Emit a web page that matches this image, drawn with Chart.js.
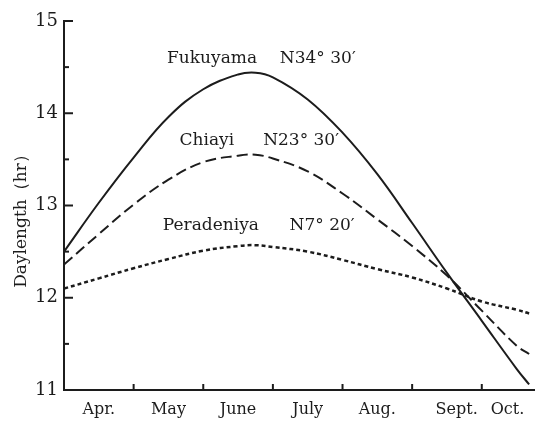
<!DOCTYPE html>
<html>
<head>
<meta charset="utf-8">
<script src="https://cdn.jsdelivr.net/npm/chart.js@4/dist/chart.umd.min.js"></script>
<style>
  html, body { margin: 0; padding: 0; background: #fff; }
  canvas { display: block; }
</style>
</head>
<body>
<canvas id="myChart" width="535" height="421"></canvas>
<script>
// months since 1 April
const months     = [0, 0.5, 1, 1.5, 2, 2.5, 2.75, 3, 3.5, 4, 4.5, 5, 5.5, 6, 6.5, 6.68];
const fukuyama   = [12.50, 13.03, 13.52, 13.96, 14.26, 14.42, 14.44, 14.39, 14.15, 13.79, 13.34, 12.81, 12.27, 11.75, 11.23, 11.06];
const chiayi     = [12.36, 12.69, 13.01, 13.28, 13.47, 13.54, 13.55, 13.51, 13.37, 13.13, 12.85, 12.56, 12.24, 11.86, 11.48, 11.39];
const peradeniya = [12.10, 12.21, 12.32, 12.42, 12.51, 12.56, 12.57, 12.55, 12.50, 12.41, 12.31, 12.22, 12.10, 11.96, 11.87, 11.83];

const monthLabels   = ['Apr.', 'May', 'June', 'July', 'Aug.', 'Sept.', 'Oct.'];
const monthLabelPos = [0.5, 1.5, 2.5, 3.5, 4.5, 5.64, 6.37];
const monthTicks    = [1, 2, 3, 4, 5, 6];
const hourTicks     = [11, 12, 13, 14, 15];
const minorHourTicks = [11.5, 12.5, 13.5, 14.5];

const stationNames = ['Fukuyama', 'Chiayi', 'Peradeniya'];
const stationLats  = ['N34° 30′', 'N23° 30′', 'N7° 20′'];
// label anchors in data units: [name x, lat x, y]
const stationLabelAt = [[1.48, 3.10, 14.59], [1.66, 2.86, 13.70], [1.42, 3.24, 12.78]];

const INK = '#1c1c1c';
const FONT = '"DejaVu Serif", serif';

const toPoints = vals => vals.map((v, i) => ({ x: months[i], y: v }));

const decorations = {
  id: 'decorations',
  afterDraw(chart) {
    const { ctx, chartArea, scales: { x, y } } = chart;
    ctx.save();
    ctx.strokeStyle = INK;
    ctx.fillStyle = INK;
    ctx.lineWidth = 2;
    // y tick marks, pointing inwards
    hourTicks.slice(1).forEach(v => {
      const py = y.getPixelForValue(v);
      ctx.beginPath(); ctx.moveTo(chartArea.left, py); ctx.lineTo(chartArea.left + 9, py); ctx.stroke();
    });
    minorHourTicks.forEach(v => {
      const py = y.getPixelForValue(v);
      ctx.beginPath(); ctx.moveTo(chartArea.left, py); ctx.lineTo(chartArea.left + 5, py); ctx.stroke();
    });
    // x tick marks, pointing up
    monthTicks.forEach(v => {
      const px = x.getPixelForValue(v);
      ctx.beginPath(); ctx.moveTo(px, chartArea.bottom); ctx.lineTo(px, chartArea.bottom - 6); ctx.stroke();
    });
    // station labels
    ctx.font = '17px ' + FONT;
    ctx.textBaseline = 'middle';
    ctx.textAlign = 'left';
    stationNames.forEach((name, i) => {
      const [nx, lx, ly] = stationLabelAt[i];
      const py = y.getPixelForValue(ly);
      ctx.fillText(name, x.getPixelForValue(nx), py);
      ctx.fillText(stationLats[i], x.getPixelForValue(lx), py);
    });
    // y title
    ctx.translate(22, 217);
    ctx.rotate(-Math.PI / 2);
    ctx.textAlign = 'center';
    ctx.font = '17px ' + FONT;
    ctx.fillText('Daylength（hr）', 0, 0);
    ctx.restore();
  }
};

new Chart(document.getElementById('myChart').getContext('2d'), {
  type: 'line',
  data: {
    datasets: [
      { label: 'Fukuyama', data: toPoints(fukuyama), borderColor: INK, borderWidth: 2, borderDash: [] },
      { label: 'Chiayi', data: toPoints(chiayi), borderColor: INK, borderWidth: 2, borderDash: [11, 5] },
      { label: 'Peradeniya', data: toPoints(peradeniya), borderColor: INK, borderWidth: 2.5, borderDash: [4, 3] }
    ]
  },
  options: {
    responsive: false,
    animation: false,
    layout: { padding: { top: 21, right: 1, left: 0, bottom: 0 } },
    elements: { point: { radius: 0 }, line: { tension: 0.4, fill: false } },
    plugins: { legend: { display: false }, tooltip: { enabled: false } },
    scales: {
      x: {
        type: 'linear',
        min: 0,
        max: 6.75,
        afterFit: s => { s.height = 31; },
        afterBuildTicks: s => { s.ticks = monthLabelPos.map(v => ({ value: v })); },
        grid: { display: false, drawTicks: false, tickLength: 0 },
        border: { display: true, color: INK, width: 2 },
        ticks: {
          autoSkip: false,
          maxRotation: 0,
          padding: 10,
          color: INK,
          font: { family: FONT, size: 16 },
          callback: (v, i) => monthLabels[i]
        }
      },
      y: {
        min: 11,
        max: 15,
        afterFit: s => { s.width = 64; },
        afterBuildTicks: s => { s.ticks = hourTicks.map(v => ({ value: v })); },
        grid: { display: false, drawTicks: false, tickLength: 0 },
        border: { display: true, color: INK, width: 2 },
        ticks: {
          padding: 6,
          color: INK,
          font: { family: FONT, size: 18 },
          callback: v => String(v)
        }
      }
    }
  },
  plugins: [decorations]
});
</script>
</body>
</html>
